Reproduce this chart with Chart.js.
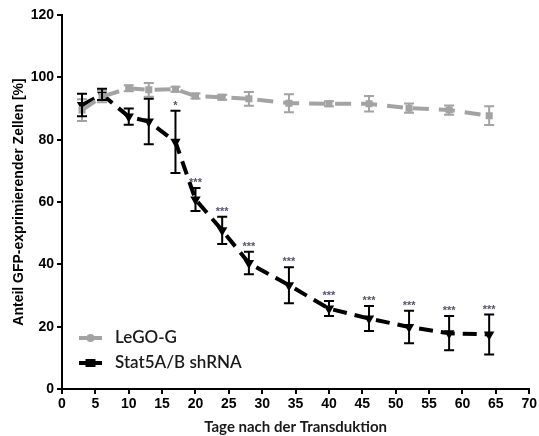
<!DOCTYPE html>
<html>
<head>
<meta charset="utf-8">
<script src="https://cdn.jsdelivr.net/npm/chart.js@4"></script>
<style>
  html, body { margin: 0; padding: 0; background: #fff; }
  #wrap { width: 539px; height: 436px; position: relative; }
</style>
</head>
<body>
<div id="wrap"><canvas id="c" width="539" height="436"></canvas></div>
<script>
// Days after transduction
const days = [3, 6, 10, 13, 17, 20, 24, 28, 34, 40, 46, 52, 58, 64];
// Control vector (LeGO-G): mean and SD of GFP+ cells [%]
const legoMean = [89.5, 93.8, 96.5, 96.0, 96.2, 94.0, 93.6, 93.1, 91.7, 91.5, 91.5, 90.1, 89.5, 87.7];
const legoErr  = [3.5, 1.8, 1.0, 2.2, 0.8, 0.8, 0.8, 2.2, 2.9, 0.8, 2.5, 1.5, 1.5, 3.0];
// Stat5A/B shRNA: mean and SD of GFP+ cells [%]
const statMean = [91.1, 94.5, 87.4, 85.8, 79.3, 60.8, 50.9, 40.4, 33.3, 25.8, 22.6, 19.9, 17.9, 17.5];
const statErr  = [3.6, 1.8, 2.6, 7.3, 10.0, 3.7, 4.4, 3.6, 5.8, 2.4, 4.0, 5.2, 5.5, 6.4];
// Significance marks above the shRNA points
const signif = ['', '', '', '', '*', '***', '***', '***', '***', '***', '***', '***', '***', '***'];
// Axis ticks
const xTicks = [0, 5, 10, 15, 20, 25, 30, 35, 40, 45, 50, 55, 60, 65, 70];
const yTicks = [0, 20, 40, 60, 80, 100, 120];

const GRAY = '#a3a3a3';
const BLACK = '#000000';
const ARIAL = '"Liberation Sans", Arial, sans-serif';
const HUMANIST = 'Lato, "Open Sans", sans-serif';

const toPts = (xs, ys) => xs.map((x, i) => ({ x: x, y: ys[i] }));

// Error bars and significance stars
const errorBars = {
  id: 'errorBars',
  afterDatasetsDraw(chart) {
    const ctx = chart.ctx;
    const xs = chart.scales.x, ys = chart.scales.y;
    chart.data.datasets.forEach((ds) => {
      const err = ds.errValues;
      ctx.save();
      ctx.strokeStyle = ds.borderColor;
      ctx.lineWidth = 2;
      ds.data.forEach((p, i) => {
        const px = xs.getPixelForValue(p.x);
        const top = ys.getPixelForValue(p.y + err[i]);
        const bot = ys.getPixelForValue(p.y - err[i]);
        ctx.beginPath();
        ctx.moveTo(px, top); ctx.lineTo(px, bot);
        ctx.moveTo(px - 5, top); ctx.lineTo(px + 5, top);
        ctx.moveTo(px - 5, bot); ctx.lineTo(px + 5, bot);
        ctx.stroke();
        if (ds.marks && ds.marks[i]) {
          ctx.fillStyle = '#55556a';
          ctx.font = 'bold 11px ' + ARIAL;
          ctx.textAlign = 'center';
          ctx.textBaseline = 'middle';
          ctx.fillText(ds.marks[i], px, top - 5);
        }
      });
      ctx.restore();
    });
  }
};

// Legend drawn inside the plot area, lower left
const innerLegend = {
  id: 'innerLegend',
  afterDraw(chart) {
    const ctx = chart.ctx;
    const items = [
      { label: 'LeGO-G', color: GRAY, style: 'circle' },
      { label: 'Stat5A/B shRNA', color: BLACK, style: 'rect' }
    ];
    const x0 = 79, x1 = 102, tx = 115;
    const rows = [338, 363];
    ctx.save();
    items.forEach((it, i) => {
      const y = rows[i];
      ctx.strokeStyle = it.color;
      ctx.fillStyle = it.color;
      ctx.lineWidth = 4;
      ctx.beginPath(); ctx.moveTo(x0, y); ctx.lineTo(x1, y); ctx.stroke();
      const cx = (x0 + x1) / 2;
      ctx.beginPath();
      if (it.style === 'circle') ctx.arc(cx, y, 4, 0, Math.PI * 2);
      else ctx.rect(cx - 5, y - 4, 10, 8);
      ctx.fill();
      ctx.fillStyle = '#1a1a1a';
      ctx.font = '600 17px ' + HUMANIST;
      ctx.textAlign = 'left';
      ctx.textBaseline = 'middle';
      ctx.fillText(it.label, tx, y);
    });
    ctx.restore();
  }
};

new Chart(document.getElementById('c'), {
  type: 'line',
  data: {
    datasets: [
      {
        label: 'LeGO-G',
        data: toPts(days, legoMean),
        errValues: legoErr,
        borderColor: GRAY,
        backgroundColor: GRAY,
        borderWidth: 4,
        borderDash: [16, 10],
        pointStyle: 'rect',
        pointRadius: 5,
        pointBorderWidth: 0,
        tension: 0
      },
      {
        label: 'Stat5A/B shRNA',
        data: toPts(days, statMean),
        errValues: statErr,
        marks: signif,
        borderColor: BLACK,
        backgroundColor: BLACK,
        borderWidth: 4,
        borderDash: [14, 8],
        pointStyle: 'triangle',
        pointRotation: 180,
        pointRadius: 6,
        pointBorderWidth: 0,
        tension: 0
      }
    ]
  },
  options: {
    responsive: false,
    animation: false,
    layout: { padding: { top: 15, right: 9, left: 0, bottom: 0 } },
    plugins: { legend: { display: false }, tooltip: { enabled: false } },
    scales: {
      x: {
        type: 'linear',
        min: 0, max: 70,
        afterBuildTicks(s) { s.ticks = xTicks.map(v => ({ value: v })); },
        afterFit(s) { s.height = 47; },
        border: { color: BLACK, width: 2 },
        grid: { drawOnChartArea: false, drawTicks: true, tickLength: 5, color: BLACK, lineWidth: 2 },
        ticks: {
          color: BLACK, padding: 2, maxRotation: 0,
          font: { family: ARIAL, size: 14, weight: 'bold' }
        },
        title: {
          display: true, text: 'Tage nach der Transduktion', color: '#1a1a1a',
          padding: { top: 0, bottom: 0 },
          font: { family: HUMANIST, size: 15, weight: 'bold' }
        }
      },
      y: {
        min: 0, max: 120,
        afterBuildTicks(s) { s.ticks = yTicks.map(v => ({ value: v })); },
        afterFit(s) { s.width = 62; },
        border: { color: BLACK, width: 2 },
        grid: { drawOnChartArea: false, drawTicks: true, tickLength: 5, color: BLACK, lineWidth: 2 },
        ticks: {
          color: BLACK, padding: 3,
          font: { family: ARIAL, size: 14, weight: 'bold' }
        },
        title: {
          display: true, text: 'Anteil GFP-exprimierender Zellen [%]', color: BLACK,
          padding: { top: 11, bottom: 0 },
          font: { family: ARIAL, size: 14, weight: 'bold' }
        }
      }
    }
  },
  plugins: [errorBars, innerLegend]
});
</script>
</body>
</html>
